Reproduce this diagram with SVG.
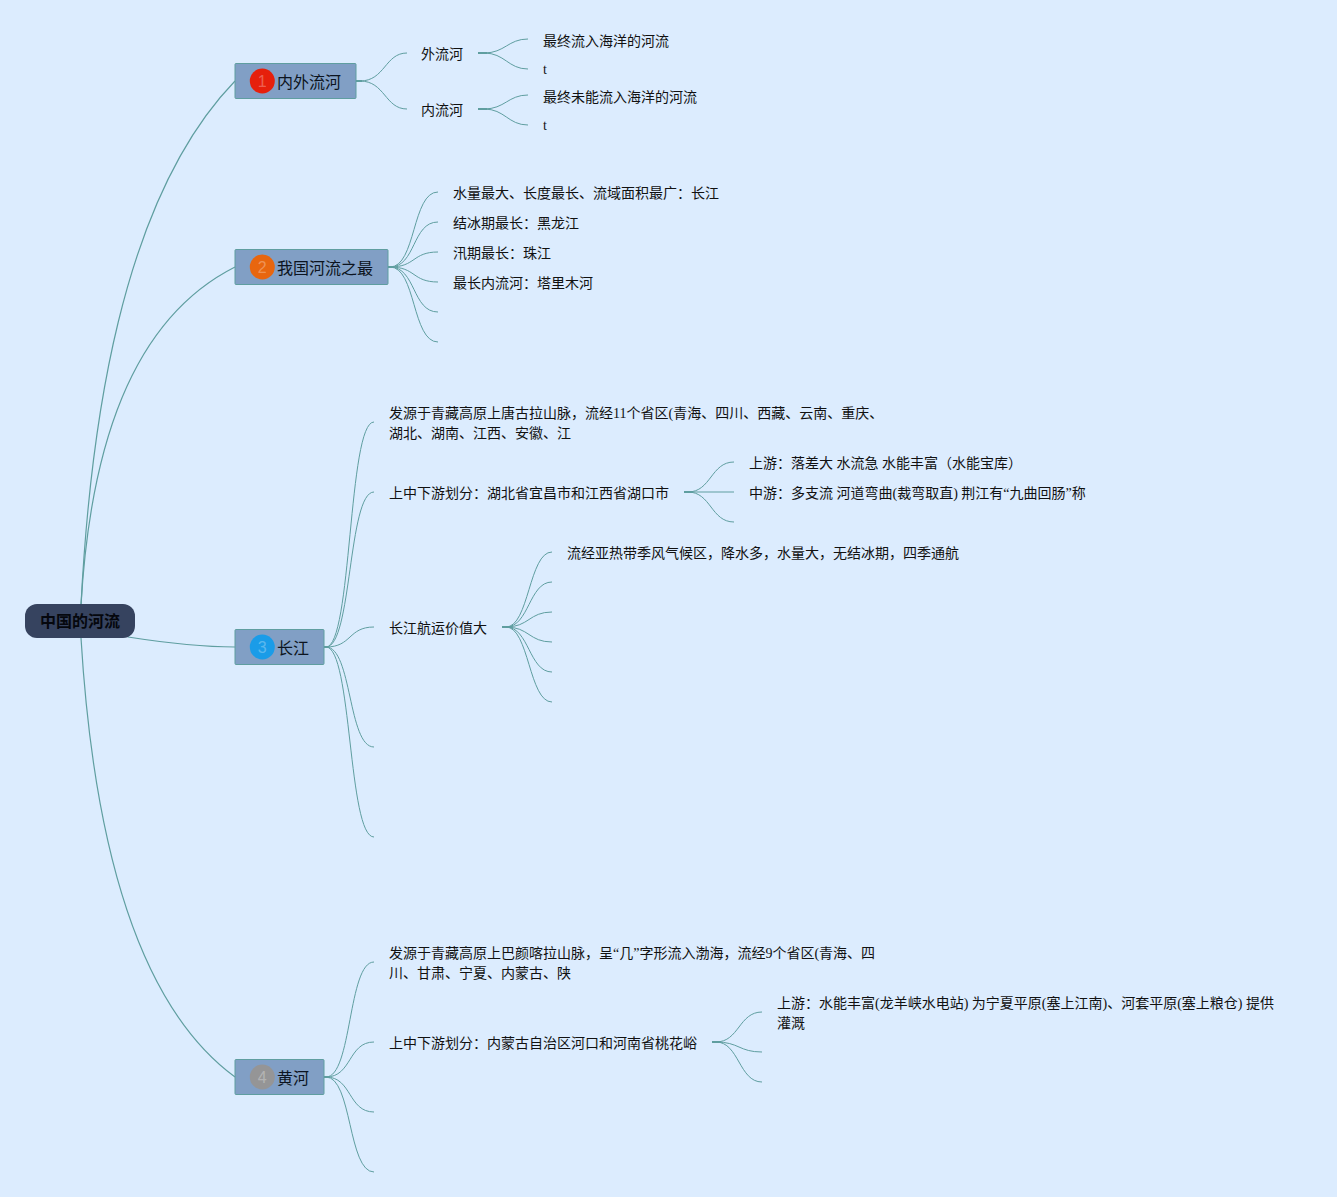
<svg xmlns="http://www.w3.org/2000/svg" width="1337" height="1197" viewBox="0 0 1337 1197">
<style>
text{font-family:"Liberation Serif","Noto Sans CJK SC",serif;font-size:14px;fill:#111}
.t{font-size:16px;fill:#0c1420}
.r{font-size:16px;font-weight:700;fill:#05070d;text-anchor:middle}
.n{fill:#fff;fill-opacity:.3;font-family:"Liberation Sans",sans-serif;font-size:16px;text-anchor:middle}
.b{fill:#819fc5;stroke:#5f9ea0;stroke-width:1}
#connectors path{fill:none;stroke:#5f9ea0;stroke-width:1}
#connectors .m{stroke-width:1.200}
#connectors .s{stroke-width:2}
</style>
<rect width="1337" height="1197" fill="#dcecfe"/>
<g id="connectors">
<path class="m" d="M81 605C90 430 120 200 235 81"/>
<path class="m" d="M81 605C90 450 130 320 235 267"/>
<path class="m" d="M128 637C160 642 200 647 235 647"/>
<path class="m" d="M81 638C92 820 130 1000 235 1077"/>
<path class="s" d="M356 81H362M388 267H393M324 647H329M324 1077H330M478 53H487M478 109H487M684 492H693M502 627H511M712 1042H721"/>
<path d="M360 81C385 81 385 53 407 53M360 81C385 81 385 109 407 109"/>
<path d="M484 53C505 53 508 39 528 39M484 53C505 53 508 69 528 69M484 109C505 109 508 95 528 95M484 109C505 109 508 125 528 125"/>
<path d="M390 267C416 267 412 192 438 192M390 267C416 267 412 222 438 222M390 267C416 267 412 252 438 252M390 267C416 267 412 282 438 282M390 267C416 267 412 312 438 312M390 267C416 267 412 342 438 342"/>
<path d="M326 647C352 647 348 422 374 422M326 647C352 647 348 492 374 492M326 647C352 647 348 627 374 627M326 647C352 647 348 747 374 747M326 647C352 647 348 837 374 837"/>
<path d="M688 492C711 492 711 462 734 462M688 492H734M688 492C711 492 711 522 734 522"/>
<path d="M506 627C529 627 529 552 552 552M506 627C529 627 529 582 552 582M506 627C529 627 529 612 552 612M506 627C529 627 529 642 552 642M506 627C529 627 529 672 552 672M506 627C529 627 529 702 552 702"/>
<path d="M326 1077C352 1077 348 962 374 962M326 1077C352 1077 348 1042 374 1042M326 1077C352 1077 348 1112 374 1112M326 1077C352 1077 348 1172 374 1172"/>
<path d="M716 1042C739 1042 739 1012 762 1012M716 1042C739 1042 739 1052 762 1052M716 1042C739 1042 739 1082 762 1082"/>
</g>
<g id="root"><rect x="25" y="604" width="110" height="34" rx="12" fill="#36435f"/><text class="r" x="80" y="627">中国的河流</text></g>
<g id="n1"><rect class="b" x="235" y="63.500" width="121" height="35" rx="1"/><circle cx="262.300" cy="81" r="12.500" fill="#e6200c"/><text class="n" x="262.300" y="87">1</text><text class="t" x="277" y="88">内外流河</text></g>
<g id="n2"><rect class="b" x="235" y="249.500" width="153" height="35" rx="1"/><circle cx="262.300" cy="267" r="12.500" fill="#e8660f"/><text class="n" x="262.300" y="273">2</text><text class="t" x="277" y="274">我国河流之最</text></g>
<g id="n3"><rect class="b" x="235" y="629.500" width="89" height="35" rx="1"/><circle cx="262.300" cy="647" r="12.500" fill="#1a9ce8"/><text class="n" x="262.300" y="653">3</text><text class="t" x="277" y="654">长江</text></g>
<g id="n4"><rect class="b" x="235" y="1059.500" width="89" height="35" rx="1"/><circle cx="262.300" cy="1077" r="12.500" fill="#959596"/><text class="n" x="262.300" y="1083">4</text><text class="t" x="277" y="1084">黄河</text></g>
<g id="l1"><text x="421" y="59">外流河</text></g>
<g id="l2"><text x="421" y="115">内流河</text></g>
<g id="l3"><text x="543" y="46">最终流入海洋的河流</text></g>
<g id="l4"><text x="543" y="74">t</text></g>
<g id="l5"><text x="543" y="102">最终未能流入海洋的河流</text></g>
<g id="l6"><text x="543" y="130">t</text></g>
<g id="l7"><text x="453" y="198">水量最大、长度最长、流域面积最广：长江</text></g>
<g id="l8"><text x="453" y="228">结冰期最长：黑龙江</text></g>
<g id="l9"><text x="453" y="258">汛期最长：珠江</text></g>
<g id="l10"><text x="453" y="288">最长内流河：塔里木河</text></g>
<g id="l11"><text x="389" y="418">发源于青藏高原上唐古拉山脉，流经11个省区(青海、四川、西藏、云南、重庆、</text><text x="389" y="438">湖北、湖南、江西、安徽、江</text></g>
<g id="l12"><text x="389" y="498">上中下游划分：湖北省宜昌市和江西省湖口市</text></g>
<g id="l13"><text x="749" y="468">上游：落差大 水流急 水能丰富（水能宝库）</text></g>
<g id="l14"><text x="749" y="498">中游：多支流 河道弯曲(裁弯取直) 荆江有“九曲回肠”称</text></g>
<g id="l15"><text x="389" y="633">长江航运价值大</text></g>
<g id="l16"><text x="567" y="558">流经亚热带季风气候区，降水多，水量大，无结冰期，四季通航</text></g>
<g id="l17"><text x="389" y="958">发源于青藏高原上巴颜喀拉山脉，呈“几”字形流入渤海，流经9个省区(青海、四</text><text x="389" y="978">川、甘肃、宁夏、内蒙古、陕</text></g>
<g id="l18"><text x="389" y="1048">上中下游划分：内蒙古自治区河口和河南省桃花峪</text></g>
<g id="l19"><text x="777" y="1008">上游：水能丰富(龙羊峡水电站) 为宁夏平原(塞上江南)、河套平原(塞上粮仓) 提供</text><text x="777" y="1028">灌溉</text></g>
</svg>
